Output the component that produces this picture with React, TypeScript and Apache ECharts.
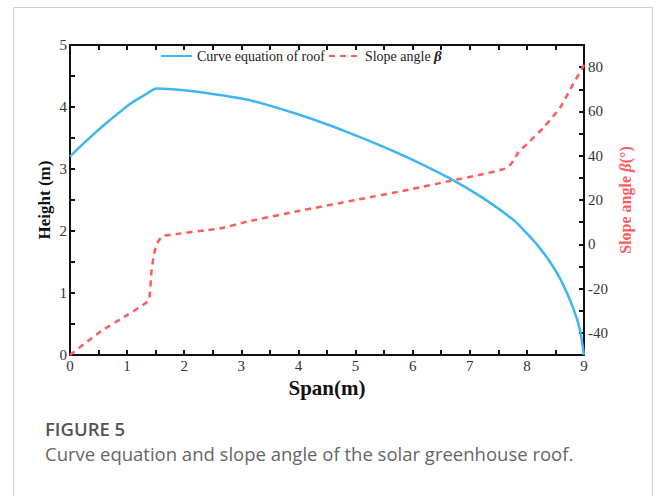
import React, { useEffect, useRef } from "react";
import * as echarts from "echarts";

// Roof profile: span position (m) and height (m)
const roofSpan = [0, 0.2, 0.4, 0.7, 1.05, 1.3, 1.52, 2, 2.5, 3.15, 4.03, 4.9, 5.78, 6.65, 7.2, 7.76, 8.0, 8.23, 8.42, 8.6, 8.81, 8.93, 9];
const roofHeight = [3.2, 3.38, 3.55, 3.79, 4.05, 4.19, 4.3, 4.27, 4.21, 4.11, 3.87, 3.58, 3.24, 2.85, 2.55, 2.18, 1.96, 1.72, 1.48, 1.2, 0.76, 0.4, 0];

// Slope angle along the span (degrees)
const angleSpan = [0, 0.53, 1.0, 1.37, 1.4, 1.43, 1.49, 1.55, 1.63, 2.63, 3.15, 4, 5, 6, 6.65, 7.2, 7.62, 7.73, 7.85, 8.05, 8.3, 8.58, 8.76, 9];
const slopeAngle = [-50, -39.5, -32, -25.6, -21.8, -11.3, -2.3, 1.5, 3.7, 7.2, 10.5, 15, 20, 25, 28.6, 31.5, 34.2, 36.5, 41.5, 46.5, 53, 61.7, 70, 81];

const seriesNames = ["Curve equation of roof", "Slope angle β"];
const captionTitle = "FIGURE 5";
const captionText = "Curve equation and slope angle of the solar greenhouse roof.";

const SERIF = "Liberation Serif";
const BLUE = "#3fb5f3";
const RED = "#ff5a5f";

export default function App() {
  const ref = useRef<HTMLDivElement>(null);

  useEffect(() => {
    document.body.style.margin = "0";
    const chart = echarts.init(ref.current!, undefined, { renderer: "svg" });

    const axisLine = { show: true, onZero: false, lineStyle: { color: "#111", width: 2 } };
    const axisTick = { show: true, inside: true, length: 5, lineStyle: { color: "#111", width: 2 } };
    const label = (fmt: (v: number) => boolean, margin: number) => ({
      show: true,
      margin,
      fontFamily: SERIF,
      fontSize: 15,
      color: "#333",
      formatter: (v: number) => (fmt(v) ? String(v) : ""),
    });

    chart.setOption({
      animation: false,
      backgroundColor: "#fff",
      textStyle: { fontFamily: SERIF, fontSize: 15 },
      grid: { left: 70, right: 72, top: 45, bottom: 141, containLabel: false },
      legend: {
        left: 155,
        top: 43.5,
        itemWidth: 31,
        itemHeight: 14,
        itemGap: 3,
        itemStyle: { opacity: 0 },
        textStyle: {
          fontFamily: SERIF,
          fontSize: 14,
          color: "#222",
          rich: {
            b: { fontFamily: SERIF, fontSize: 15, fontWeight: "bold", fontStyle: "italic", color: "#222" },
          },
        },
        formatter: (name: string) =>
          name.endsWith("β") ? name.slice(0, -1) + "{b|β}" : name,
        data: seriesNames,
      },
      xAxis: [
        {
          type: "value",
          min: 0,
          max: 9,
          interval: 0.5,
          position: "bottom",
          name: "Span(m)",
          nameLocation: "middle",
          nameGap: 18,
          nameTextStyle: { fontFamily: SERIF, fontSize: 21, fontWeight: "bold", color: "#111" },
          axisLine,
          axisTick,
          splitLine: { show: false },
          axisLabel: label((v) => Number.isInteger(v), 3),
        },
        {
          type: "value",
          min: 0,
          max: 9,
          interval: 0.5,
          position: "top",
          axisLine,
          axisTick,
          splitLine: { show: false },
          axisLabel: { show: false },
        },
      ],
      yAxis: [
        {
          type: "value",
          min: 0,
          max: 5,
          interval: 0.5,
          position: "left",
          name: "Height (m)",
          nameLocation: "middle",
          nameMoveOverlap: false,
          nameGap: 17,
          nameTextStyle: { fontFamily: SERIF, fontSize: 17, fontWeight: "bold", color: "#111" },
          axisLine,
          axisTick,
          splitLine: { show: false },
          axisLabel: label((v) => Number.isInteger(v), 3),
        },
        {
          type: "value",
          min: -50,
          max: 90,
          interval: 10,
          position: "right",
          name: "Slope angle {b|β}(°)",
          nameLocation: "middle",
          nameMoveOverlap: false,
          nameGap: 33,
          nameRotate: 90,
          nameTextStyle: {
            fontFamily: SERIF,
            fontSize: 16,
            fontWeight: "bold",
            color: RED,
            rich: {
              b: { fontFamily: SERIF, fontSize: 17, fontWeight: "bold", fontStyle: "italic", color: RED },
            },
          },
          axisLine,
          axisTick,
          splitLine: { show: false },
          axisLabel: label((v) => v % 20 === 0 && v > -50 && v < 90, 4),
        },
      ],
      series: [
        {
          name: seriesNames[0],
          type: "line",
          xAxisIndex: 0,
          yAxisIndex: 0,
          symbol: "none",
          smooth: 0.25,
          lineStyle: { color: BLUE, width: 2.5 },
          itemStyle: { color: BLUE },
          data: roofSpan.map((x, i) => [x, roofHeight[i]]),
        },
        {
          name: seriesNames[1],
          type: "line",
          xAxisIndex: 0,
          yAxisIndex: 1,
          symbol: "none",
          smooth: 0.2,
          lineStyle: { color: RED, width: 2.5, type: [6, 5] },
          itemStyle: { color: RED },
          data: angleSpan.map((x, i) => [x, slopeAngle[i]]),
        },
      ],
      graphic: [
        {
          type: "polyline",
          shape: { points: [[13.5, 496], [13.5, 7.5], [652.5, 7.5], [652.5, 496]] },
          style: { stroke: "#d0d0d0", lineWidth: 1, fill: null },
          silent: true,
        },
        {
          type: "text",
          left: 45,
          top: 419,
          style: {
            text: captionTitle,
            font: "600 18.5px 'Open Sans'",
            fill: "#555",
          },
        },
        {
          type: "text",
          left: 45,
          top: 444,
          style: {
            text: captionText,
            font: "400 18.5px 'Open Sans'",
            fill: "#666",
          },
        },
      ],
    });

    return () => chart.dispose();
  }, []);

  return <div ref={ref} style={{ width: 656, height: 496 }} />;
}
